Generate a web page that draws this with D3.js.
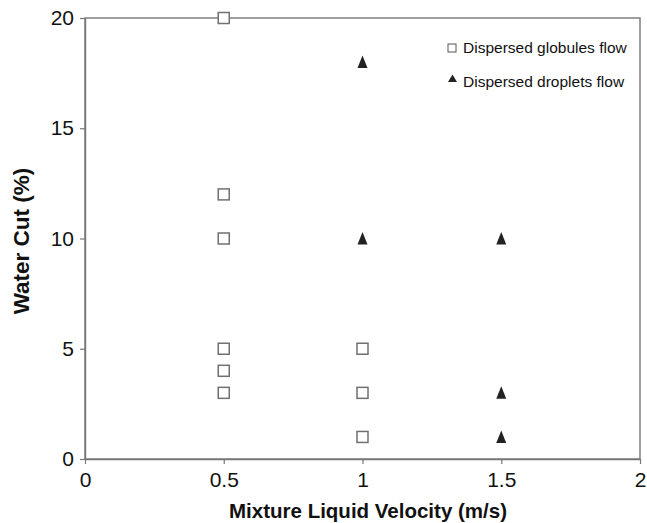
<!DOCTYPE html>
<html><head><meta charset="utf-8">
<script src="https://cdn.jsdelivr.net/npm/d3@7"></script>
<style>body{margin:0;background:#fff;} text{font-family:"Liberation Sans",Arial,sans-serif;}</style>
</head><body>
<svg id="c" width="647" height="523"></svg>
<script>
const globulesX = [0.5, 0.5, 0.5, 0.5, 0.5, 0.5, 1, 1, 1];
const globulesY = [20, 12, 10, 5, 4, 3, 5, 3, 1];
const dropletsX = [1, 1, 1.5, 1.5, 1.5];
const dropletsY = [18, 10, 10, 3, 1];
const xTicks = [0, 0.5, 1, 1.5, 2];
const yTicks = [0, 5, 10, 15, 20];
const seriesNames = ["Dispersed globules flow", "Dispersed droplets flow"];

const svg = d3.select("#c");
const L = 85, R = 640, T = 18, B = 459;
const x = d3.scaleLinear().domain([0, 2]).range([L, R]);
const y = d3.scaleLinear().domain([0, 20]).range([B, T]);
const axisColor = "#777";

svg.append("rect").attr("x", L).attr("y", T).attr("width", R - L).attr("height", B - T)
  .attr("fill", "none").attr("stroke", axisColor).attr("stroke-width", 1.4);

const xa = svg.append("g").attr("transform", `translate(0,${B})`)
  .call(d3.axisBottom(x).tickValues(xTicks).tickSize(5).tickSizeOuter(0).tickFormat(d => d3.format("")(d)));
xa.select(".domain").attr("stroke", axisColor).attr("stroke-width", 1.4);
xa.selectAll(".tick line").attr("stroke", axisColor).attr("stroke-width", 1.2);
xa.selectAll(".tick text").attr("font-size", 21).attr("fill", "#111").attr("y", 13).attr("dy", "0.71em");

const ya = svg.append("g").attr("transform", `translate(${L},0)`)
  .call(d3.axisLeft(y).tickValues(yTicks).tickSize(5).tickSizeOuter(0));
ya.select(".domain").attr("stroke", axisColor).attr("stroke-width", 1.4);
ya.selectAll(".tick line").attr("stroke", axisColor).attr("stroke-width", 1.2);
ya.selectAll(".tick text").attr("font-size", 21).attr("fill", "#111").attr("x", -11);

svg.append("text").attr("x", 368).attr("y", 518).attr("text-anchor", "middle")
  .attr("font-size", 20.5).attr("font-weight", "bold").attr("fill", "#111").text("Mixture Liquid Velocity (m/s)");
svg.append("text").attr("transform", `translate(29,241) rotate(-90)`).attr("text-anchor", "middle")
  .attr("font-size", 22.5).attr("font-weight", "bold").attr("fill", "#111").text("Water Cut (%)");

const sq = 11;
svg.append("g").selectAll("rect").data(globulesX.map((d, i) => [d, globulesY[i]])).join("rect")
  .attr("x", d => x(d[0]) - sq / 2).attr("y", d => y(d[1]) - sq / 2)
  .attr("width", sq).attr("height", sq).attr("fill", "#fff").attr("stroke", "#707070").attr("stroke-width", 1.5);

const triPath = "M0,-6.5L5,6L-5,6Z";
svg.append("g").selectAll("path").data(dropletsX.map((d, i) => [d, dropletsY[i]])).join("path")
  .attr("d", triPath).attr("transform", d => `translate(${x(d[0])},${y(d[1])})`).attr("fill", "#222");

const lg = svg.append("g");
lg.append("rect").attr("x", 448).attr("y", 44).attr("width", 8).attr("height", 8)
  .attr("fill", "#fff").attr("stroke", "#555").attr("stroke-width", 1);
lg.append("path").attr("d", "M0,-4L4.5,3.5L-4.5,3.5Z").attr("transform", "translate(452.5,78.5)").attr("fill", "#222");
lg.append("text").attr("x", 463).attr("y", 53).attr("font-size", 15.5).attr("fill", "#111").text(seriesNames[0]);
lg.append("text").attr("x", 463).attr("y", 87).attr("font-size", 15.5).attr("fill", "#111").text(seriesNames[1]);
</script>
</body></html>
